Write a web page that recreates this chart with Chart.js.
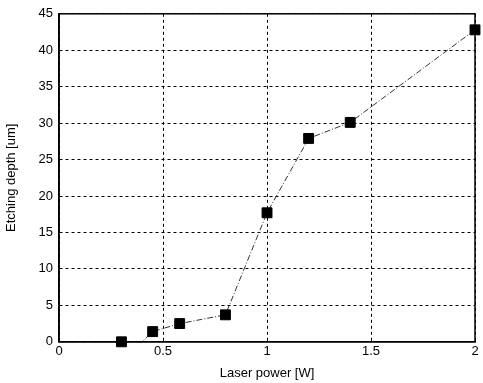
<!DOCTYPE html>
<html>
<head>
<meta charset="utf-8">
<script src="https://cdn.jsdelivr.net/npm/chart.js@4.4.0/dist/chart.umd.min.js"></script>
<style>
  html, body { margin: 0; padding: 0; background: #fff; }
  #wrap { width: 483px; height: 383px; }
</style>
</head>
<body>
<div id="wrap"><canvas id="chart" width="483" height="383"></canvas></div>
<script>
// measured points (laser power in W, etching depth in um)
const power = [0, 0.3, 0.40, 0.45, 0.58, 0.8, 1.0, 1.2, 1.4, 2.0];
const depth = [0, 0, 0, 1.4, 2.5, 3.7, 17.7, 27.9, 30.1, 42.8];
const hasMarker = [false, true, false, true, true, true, true, true, true, true];
const xTicks = [0, 0.5, 1, 1.5, 2];
const yTicks = [0, 5, 10, 15, 20, 25, 30, 35, 40, 45];

const points = power.map((p, i) => ({ x: p, y: depth[i] }));

const frameBox = {
    id: 'frameBox',
    afterDraw(chart) {
        const a = chart.chartArea;
        const ctx = chart.ctx;
        ctx.save();
        ctx.strokeStyle = '#000';
        ctx.lineWidth = 1.5;
        ctx.strokeRect(a.left, a.top, a.right - a.left, a.bottom - a.top);
        ctx.restore();
    }
};

const font = { family: 'Liberation Sans, Arial, sans-serif', size: 13 };

new Chart(document.getElementById('chart').getContext('2d'), {
    type: 'scatter',
    data: {
        datasets: [{
            data: points,
            showLine: true,
            clip: false,
            borderColor: '#333',
            borderWidth: 1,
            borderDash: [6, 2, 1, 2],
            pointStyle: 'rect',
            pointRadius: hasMarker.map(m => m ? 7 : 0),
            backgroundColor: '#000',
            pointBorderColor: '#000',
            tension: 0
        }]
    },
    options: {
        responsive: false,
        animation: false,
        layout: { padding: { left: 4, right: 8, top: 11, bottom: 2 } },
        plugins: {
            legend: { display: false },
            tooltip: { enabled: false }
        },
        scales: {
            x: {
                type: 'linear',
                min: 0,
                max: 2,
                afterBuildTicks: axis => { axis.ticks = xTicks.map(v => ({ value: v })); },
                ticks: { color: '#000', font: font, padding: 2, maxRotation: 0, callback: v => String(v) },
                grid: { color: '#000', lineWidth: 1, drawTicks: false },
                border: { color: '#000', width: 1.5, dash: [3, 3] },
                title: { display: true, text: 'Laser power [W]', color: '#000', font: font, padding: { top: 4, bottom: 0 } }
            },
            y: {
                type: 'linear',
                min: 0,
                max: 45,
                afterBuildTicks: axis => { axis.ticks = yTicks.map(v => ({ value: v })); },
                ticks: { color: '#000', font: font, padding: 6, callback: v => String(v) },
                grid: { color: '#000', lineWidth: 1, drawTicks: false },
                border: { color: '#000', width: 1.5, dash: [3, 3] },
                title: { display: true, text: 'Etching depth [um]', color: '#000', font: font, padding: { top: 0, bottom: 13 } }
            }
        }
    },
    plugins: [frameBox]
});
</script>
</body>
</html>
